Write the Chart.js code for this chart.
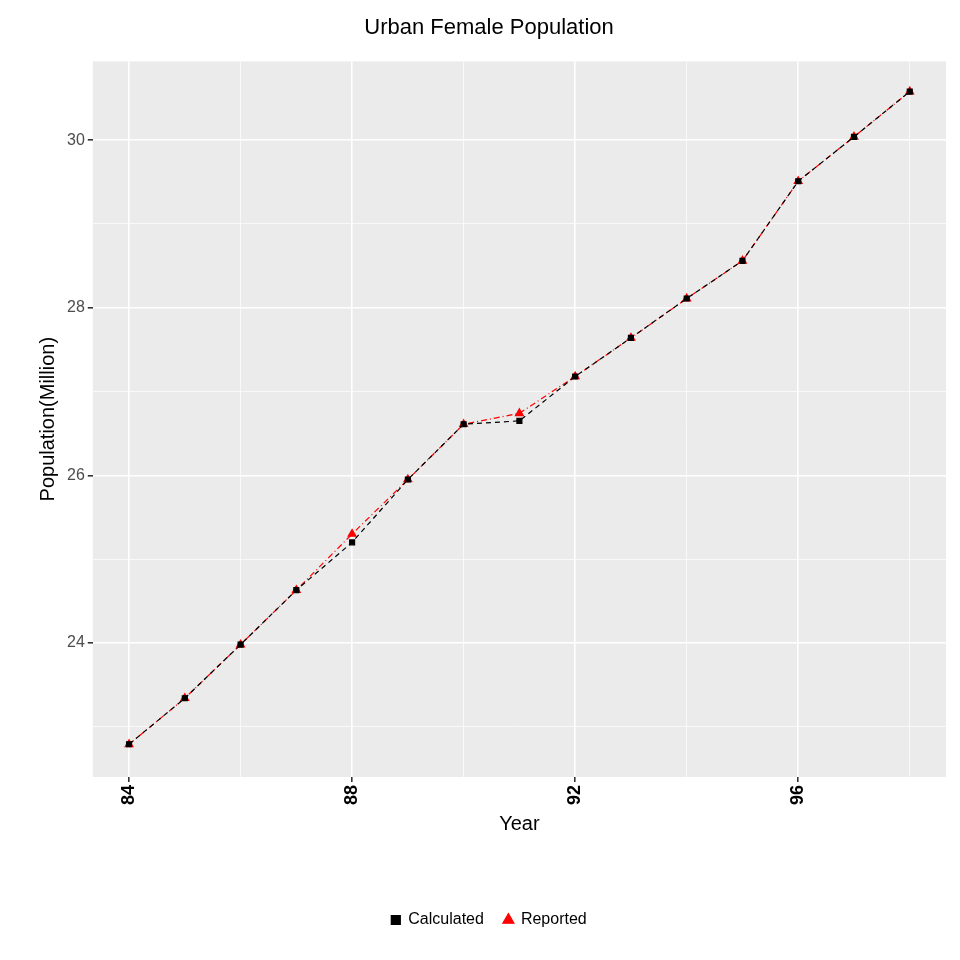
<!DOCTYPE html>
<html><head><meta charset="utf-8">
<script src="https://cdn.jsdelivr.net/npm/chart.js@4"></script>
<style>body{margin:0;background:#fff}#w{width:960px;height:960px}</style>
</head><body><div id="w"><canvas id="c"></canvas></div>
<script>
const years=[84,85,86,87,88,89,90,91,92,93,94,95,96,97,98];
const calculated=[22.79,23.34,23.98,24.63,25.20,25.95,26.61,26.65,27.18,27.64,28.11,28.56,29.51,30.04,30.58];
const reported=[22.79,23.34,23.98,24.63,25.30,25.95,26.61,26.74,27.18,27.64,28.11,28.56,29.51,30.04,30.58];
const xTicks=[84,88,92,96];
const yTicks=[24,26,28,30];
const bg={id:'bg',beforeDraw(ch){const a=ch.chartArea,x=ch.ctx;x.save();x.fillStyle='#EBEBEB';x.fillRect(a.left,a.top,a.right-a.left,a.bottom-a.top);x.restore();}};
new Chart(document.getElementById('c'),{type:'line',
data:{datasets:[
{label:'Calculated',data:years.map((y,i)=>({x:y,y:calculated[i]})),borderColor:'#000',backgroundColor:'#000',borderWidth:1.2,borderDash:[5,4],pointStyle:'rect',pointRadius:3.5,tension:0},
{label:'Reported',data:years.map((y,i)=>({x:y,y:reported[i]})),borderColor:'#FF0000',backgroundColor:'#FF0000',borderWidth:1.2,borderDash:[6,3,1,3],pointStyle:'triangle',pointRadius:4.5,tension:0}
]},
options:{responsive:true,maintainAspectRatio:false,animation:false,
layout:{padding:{left:32,right:14,top:5,bottom:22}},
plugins:{title:{display:true,text:'Urban Female Population',font:{size:22,weight:'normal',family:'Arial, Liberation Sans'},color:'#000',padding:{top:10,bottom:20}},
legend:{position:'bottom',labels:{usePointStyle:true,boxWidth:9,boxHeight:9,font:{size:16,family:'Arial, Liberation Sans'},color:'#000',padding:20}}},
scales:{
x:{type:'linear',min:83.35,max:98.65,afterBuildTicks(s){s.ticks=[84,86,88,90,92,94,96,98].map(v=>({value:v}));},
ticks:{callback:v=>xTicks.includes(v)?String(v):'',minRotation:90,maxRotation:90,font:{size:18,weight:'bold',family:'Arial, Liberation Sans'},color:'#000'},
grid:{color:'#fff',lineWidth:c=>xTicks.includes(c.tick&&c.tick.value)?1.6:0.7,tickColor:c=>xTicks.includes(c.tick&&c.tick.value)?'#333':'rgba(0,0,0,0)',tickLength:5},border:{display:false},
title:{display:true,text:'Year',font:{size:20,family:'Arial, Liberation Sans'},color:'#000',padding:{top:4,bottom:56}}},
y:{min:22.4,max:30.94,afterBuildTicks(s){s.ticks=[23,24,25,26,27,28,29,30].map(v=>({value:v}));},
ticks:{callback:v=>yTicks.includes(v)?String(v):'',font:{size:16,family:'Arial, Liberation Sans'},color:'#4d4d4d'},
grid:{color:'#fff',lineWidth:c=>yTicks.includes(c.tick&&c.tick.value)?1.6:0.7,tickColor:c=>yTicks.includes(c.tick&&c.tick.value)?'#333':'rgba(0,0,0,0)',tickLength:5},border:{display:false},
title:{display:true,text:'Population(Million)',font:{size:20,family:'Arial, Liberation Sans'},color:'#000'}}
}},plugins:[bg]});
</script></body></html>
